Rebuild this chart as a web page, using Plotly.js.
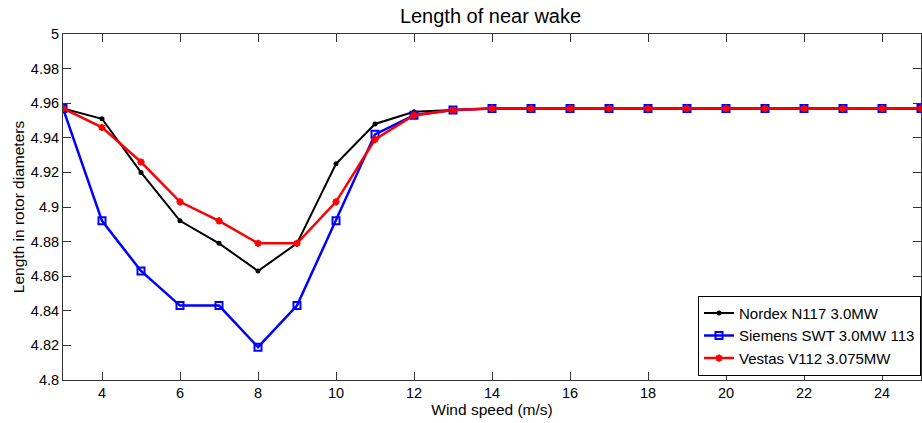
<!DOCTYPE html>
<html>
<head>
<meta charset="utf-8">
<script src="https://cdn.plot.ly/plotly-3.0.1.min.js"></script>
<style>html,body{margin:0;padding:0;background:#fff;}#chart{width:922px;height:423px;}</style>
</head>
<body>
<div id="chart"></div>
<script>
const windSpeed = [3,4,5,6,7,8,9,10,11,12,13,14,15,16,17,18,19,20,21,22,23,24,25];
const nordex  = [4.957,4.951,4.920,4.892,4.879,4.863,4.879,4.925,4.948,4.955,4.956,4.957,4.957,4.957,4.957,4.957,4.957,4.957,4.957,4.957,4.957,4.957,4.957];
const siemens = [4.957,4.892,4.863,4.843,4.843,4.819,4.843,4.892,4.942,4.953,4.956,4.957,4.957,4.957,4.957,4.957,4.957,4.957,4.957,4.957,4.957,4.957,4.957];
const vestas  = [4.957,4.946,4.926,4.903,4.892,4.879,4.879,4.903,4.939,4.953,4.956,4.957,4.957,4.957,4.957,4.957,4.957,4.957,4.957,4.957,4.957,4.957,4.957];
const seriesNames = ['Nordex N117 3.0MW','Siemens SWT 3.0MW 113','Vestas V112 3.075MW'];
const xTickVals = [4,6,8,10,12,14,16,18,20,22,24];
const yTickVals = [4.8,4.82,4.84,4.86,4.88,4.9,4.92,4.94,4.96,4.98,5];
const yTickText = ['4.8','4.82','4.84','4.86','4.88','4.9','4.92','4.94','4.96','4.98','5'];

const font = 'Liberation Sans, Arial, Helvetica, sans-serif';
const traces = [
  {x: windSpeed, y: nordex, name: seriesNames[0], mode: 'lines+markers',
   line: {color: '#000000', width: 2}, marker: {symbol: 'circle', size: 5, color: '#000000'}},
  {x: windSpeed, y: siemens, name: seriesNames[1], mode: 'lines+markers',
   line: {color: '#0000ff', width: 2.5}, marker: {symbol: 'square-open', size: 7, color: '#0000ff', line: {width: 2, color: '#0000ff'}}},
  {x: windSpeed, y: vestas, name: seriesNames[2], mode: 'lines+markers',
   line: {color: '#ff0000', width: 2.5}, marker: {symbol: 'asterisk-open', size: 6, color: '#ff0000', line: {width: 2, color: '#ff0000'}}}
];
const layout = {
  width: 922, height: 423,
  margin: {l: 63, r: 1, t: 34, b: 43},
  paper_bgcolor: '#ffffff', plot_bgcolor: '#ffffff',
  font: {family: font, size: 14, color: '#000'},
  title: {text: 'Length of near wake', font: {family: font, size: 20, color: '#000'}, x: 0.532, xanchor: 'center', y: 0.962, yanchor: 'middle', automargin: false},
  xaxis: {range: [3,25], tickvals: xTickVals, ticks: 'inside', ticklen: 8, tickcolor: '#333', automargin: false,
          showline: true, linecolor: '#333', linewidth: 1, mirror: 'ticks', showgrid: false, zeroline: false,
          tickfont: {size: 14.5}, title: {text: 'Wind speed (m/s)', font: {size: 15.5}, standoff: 2}},
  yaxis: {range: [4.8,5], tickvals: yTickVals, ticktext: yTickText, ticks: 'inside', ticklen: 8, tickcolor: '#333', automargin: false,
          showline: true, linecolor: '#333', linewidth: 1, mirror: 'ticks', showgrid: false, zeroline: false,
          tickfont: {size: 14.5}, title: {text: 'Length in rotor diameters', font: {size: 15.5}, standoff: 2}},
  legend: {x: 1, xanchor: 'right', y: 0.012, yanchor: 'bottom', bgcolor: '#ffffff', bordercolor: '#000', borderwidth: 1,
           font: {size: 15, family: font}, tracegroupgap: 0, itemwidth: 30},
  showlegend: true
};
Plotly.newPlot('chart', traces, layout, {displayModeBar: false, staticPlot: true});
</script>
</body>
</html>
